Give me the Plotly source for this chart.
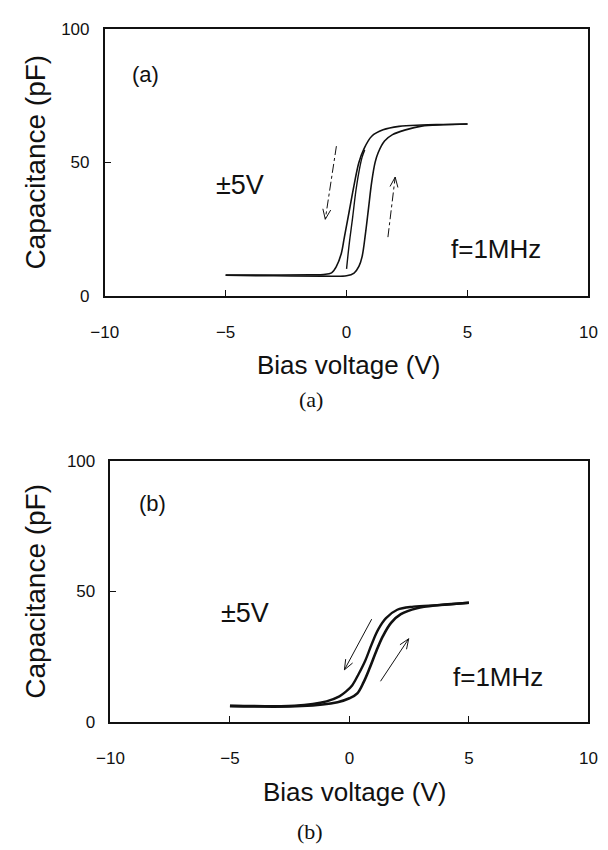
import math
import plotly.graph_objects as go

# ---- data ----
# panel (a): +-5 V sweep, f = 1 MHz
a_down_v = [-5, -3, -1.5, -0.95, -0.62, -0.42, -0.22, -0.09, 0.11, 0.31, 0.51, 0.71, 1.04, 1.51, 2.17, 3.1, 4.0, 5.0]
a_down_c = [7.7, 7.7, 7.8, 7.9, 8.5, 10.9, 15.7, 21.9, 31.6, 41.4, 49.9, 54.8, 59.7, 62.1, 63.4, 63.9, 64.1, 64.3]
a_up_v = [-5, -3, -1, 0.0, 0.31, 0.51, 0.64, 0.78, 0.91, 1.04, 1.18, 1.31, 1.57, 1.9, 2.44, 3.1, 4.0, 5.0]
a_up_c = [7.6, 7.4, 7.3, 7.4, 8.4, 10.9, 14.5, 23.1, 32.9, 42.6, 49.9, 53.6, 57.9, 60.3, 62.1, 63.5, 64.0, 64.3]
a_init_v = [0.0, 0.11, 0.25, 0.38, 0.51, 0.64, 0.75]
a_init_c = [10.0, 19.4, 29.2, 38.9, 46.3, 51.8, 54.6]

# panel (b)
b_down_v = [-5, -3.5, -2.3, -0.96, -0.42, -0.15, 0.12, 0.39, 0.66, 0.93, 1.2, 1.53, 2.0, 2.68, 3.76, 5.0]
b_down_c = [6.1, 6.0, 6.1, 7.8, 9.7, 11.5, 14.0, 18.4, 23.4, 29.7, 35.3, 39.7, 42.9, 44.1, 44.7, 45.6]
b_up_v = [-5, -2, -0.5, 0.0, 0.33, 0.6, 0.86, 1.13, 1.4, 1.74, 2.15, 2.82, 3.76, 5.0]
b_up_c = [6.0, 6.0, 7.5, 9.0, 10.9, 15.3, 20.9, 27.2, 32.8, 37.9, 41.2, 43.5, 44.7, 45.6]

x_ticks = [-10, -5, 0, 5, 10]
y_ticks = [0, 50, 100]

# page has an 8px body margin, so the figure is 600x842 placed at (8, 8)
OFF = 8
W, H = 608 - OFF, 850 - OFF
FONT = "Liberation Sans, Arial, sans-serif"
SERIF = "Liberation Serif, Times New Roman, serif"
INK = "#111111"


def px(x):
    return (x - OFF) / W


def py(y):
    return 1 - (y - OFF) / H


fig = go.Figure()

for v, c, w in [(a_down_v, a_down_c, 1.6), (a_up_v, a_up_c, 1.6), (a_init_v, a_init_c, 1.4)]:
    fig.add_trace(go.Scatter(x=v, y=c, mode="lines", line=dict(color=INK, width=w, shape="spline"),
                             xaxis="x", yaxis="y", hoverinfo="skip"))
for v, c, w in [(b_down_v, b_down_c, 2.4), (b_up_v, b_up_c, 2.6)]:
    fig.add_trace(go.Scatter(x=v, y=c, mode="lines", line=dict(color=INK, width=w, shape="spline"),
                             xaxis="x2", yaxis="y2", hoverinfo="skip"))

# panel boxes in page pixels: (left, right, top, bottom)
boxes = {"a": (94, 597, 20, 293), "b": (100, 597, 462, 729)}


def axis(dom_x, anchor):
    return dict(range=[-10, 10], domain=dom_x, tickvals=x_ticks,
                ticktext=[str(t).replace("-", "\u2212") for t in x_ticks],
                ticks="inside", ticklen=6, tickcolor=INK, showline=True, linecolor=INK, linewidth=1.6,
                mirror=True, showgrid=False, zeroline=False, anchor=anchor,
                tickfont=dict(family=FONT, size=17, color=INK), ticklabelstandoff=20)


def yaxis(dom_y, anchor):
    return dict(range=[0, 100], domain=dom_y, tickvals=y_ticks, ticks="inside", ticklen=6, tickcolor=INK,
                showline=True, linecolor=INK, linewidth=1.6, mirror=True, showgrid=False, zeroline=False,
                anchor=anchor, tickfont=dict(family=FONT, size=17, color=INK), ticklabelstandoff=10)


la, ra, ta, ba = boxes["a"]
lb, rb, tb, bb = boxes["b"]
fig.update_layout(
    width=W, height=H, margin=dict(l=0, r=0, t=0, b=0), showlegend=False,
    plot_bgcolor="white", paper_bgcolor="white",
    xaxis=axis([px(la), px(ra)], "y"), yaxis=yaxis([py(ba), py(ta)], "x"),
    xaxis2=axis([px(lb), px(rb)], "y2"), yaxis2=yaxis([py(bb), py(tb)], "x2"),
)

# (key, x ref, y ref, x-title centre, caption centre, panel label, +-5V, f=1MHz positions in data coords)
panels = [
    ("a", "x", "y", (348, 364), (308, 399), (-8.97, 82.8), (-5.47, 41.4), (4.23, 17.6)),
    ("b", "x2", "y2", (354, 801), (307, 841), (-8.91, 83.8), (-5.45, 41.7), (4.25, 17.3)),
]
ann = []
for key, xr, yr, xt, cap, lab, pm, fq in panels:
    l, r, t, b = boxes[key]
    ann.append(dict(text="Capacitance (pF)", x=px(22), y=py((t + b) / 2), xref="paper", yref="paper",
                    xanchor="center", yanchor="middle",
                    textangle=-90, showarrow=False, font=dict(family=FONT, size=28, color=INK)))
    ann.append(dict(text="Bias voltage (V)", x=px(xt[0]), y=py(xt[1]), xref="paper", yref="paper",
                    xanchor="center", yanchor="middle",
                    showarrow=False, font=dict(family=FONT, size=26, color=INK)))
    ann.append(dict(text="(" + key + ")", x=px(cap[0]), y=py(cap[1]), xref="paper", yref="paper",
                    xanchor="center", yanchor="middle", showarrow=False,
                    font=dict(family=SERIF, size=22, color=INK)))
    ann.append(dict(text="(" + key + ")", x=lab[0], y=lab[1], xref=xr, yref=yr, xanchor="left", yanchor="middle",
                    showarrow=False, font=dict(family=FONT, size=22, color=INK)))
    ann.append(dict(text="\u00b15V", x=pm[0], y=pm[1], xref=xr, yref=yr, xanchor="left", yanchor="middle",
                    showarrow=False, font=dict(family=FONT, size=27, color=INK)))
    ann.append(dict(text="f=1MHz", x=fq[0], y=fq[1], xref=xr, yref=yr, xanchor="left", yanchor="middle",
                    showarrow=False, font=dict(family=FONT, size=26, color=INK)))
fig.update_layout(annotations=ann)

# sweep direction arrows (tail -> head, data coords)
arrows = [
    ("x", "y", "a", (-0.42, 56), (-0.88, 28.6), "dashdot"),
    ("x", "y", "a", (1.71, 21.9), (2.01, 44.4), "dashdot"),
    ("x2", "y2", "b", (0.93, 39.3), (-0.21, 19.9), "solid"),
    ("x2", "y2", "b", (1.3, 15.5), (2.48, 31.8), "solid"),
]
shapes = []
for xr, yr, key, (x0, y0), (x1, y1), dash in arrows:
    l, r, t, b = boxes[key]
    xs = (r - l) / 20.0
    ys = (b - t) / 100.0
    dx, dy = (x1 - x0) * xs, (y1 - y0) * ys
    L = math.hypot(dx, dy)
    ux, uy = -dx / L, -dy / L
    shapes.append(dict(type="line", xref=xr, yref=yr, x0=x0, y0=y0, x1=x1, y1=y1,
                       line=dict(color=INK, width=1, dash=dash)))
    for s in (1, -1):
        ang = math.radians(22) * s
        bx = ux * math.cos(ang) - uy * math.sin(ang)
        by = ux * math.sin(ang) + uy * math.cos(ang)
        shapes.append(dict(type="line", xref=xr, yref=yr, x0=x1, y0=y1,
                           x1=x1 + bx * 11 / xs, y1=y1 + by * 11 / ys,
                           line=dict(color=INK, width=1)))
fig.update_layout(shapes=shapes)

fig.write_html("out.html")
